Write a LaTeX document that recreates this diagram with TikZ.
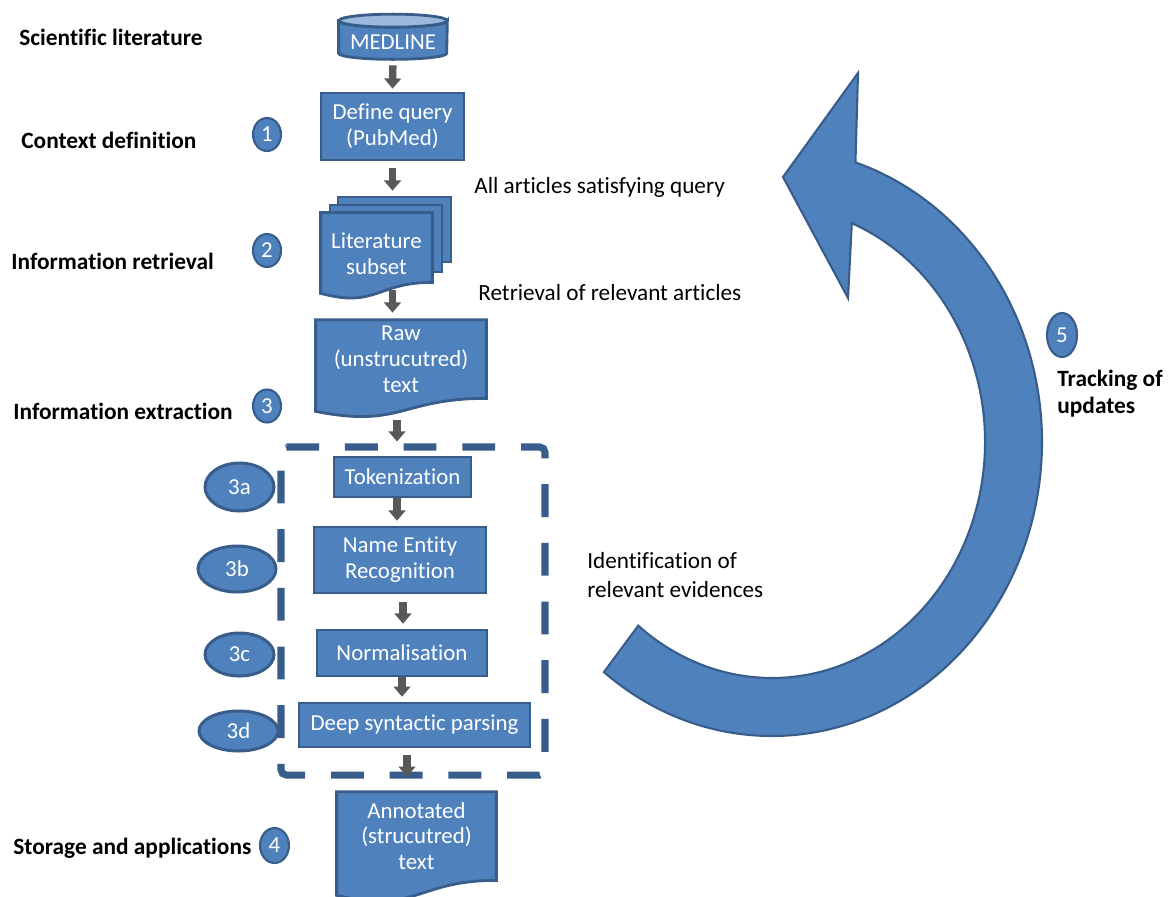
\documentclass[tikz,border=0pt]{standalone}
\usepackage{fontspec}
\setmainfont[Ligatures=NoCommon]{Carlito}
\usepackage{tikz}
\usetikzlibrary{calc}
\usetikzlibrary{arrows.meta}
\usetikzlibrary{positioning}
\usetikzlibrary{backgrounds}
\usetikzlibrary{shapes.geometric}
\definecolor{boxblue}{RGB}{79, 129, 189}
\definecolor{edgeblue}{RGB}{56, 93, 138}
\definecolor{lidblue}{RGB}{155, 185, 220}
\definecolor{arrowgrey}{RGB}{89, 89, 89}
\newcommand{\pxu}{0.02cm}
\newcommand{\textsz}{\fontsize{13}{14.7}\selectfont}

\tikzset{
  stepbox/.style={draw=edgeblue, fill=boxblue, line width=1.6pt, text=white, align=center, inner sep=0pt, font=\textsz},
  docbox/.style={text=white, align=center, inner sep=0pt, font=\textsz},
  docsheet/.style={draw=edgeblue, fill=boxblue, line width=1.6pt},
  stepnum/.style={ellipse, draw=edgeblue, fill=boxblue, line width=1.2pt, text=white, inner sep=0pt, font=\textsz},
  substep/.style={stepnum, line width=1.7pt},
  stagelabel/.style={anchor=west, inner sep=0pt, font=\bfseries\fontsize{13.3}{15}\selectfont},
  note/.style={anchor=west, inner sep=0pt, align=left, font=\fontsize{13.2}{17}\selectfont},
  flow/.style={arrowgrey, line width=4.2pt, -{Triangle[width=9.5pt,length=5.8pt]}},
  ieframe/.style={draw=edgeblue, line width=4pt, dash pattern=on 18.7pt off 14.7pt, rounded corners=3pt},
  bigarrow/.style={draw=edgeblue, fill=boxblue, line width=1.2pt, line join=miter}
}

\begin{document}
\begin{tikzpicture}[x=\pxu, y=-\pxu]
  \useasboundingbox (0,0) rectangle (1168,896);

  % Stage labels
  \node[stagelabel] (lblsci)  at (19,37)  {Scientific literature};
  \node[stagelabel] (lblctx)  at (21,140) {Context definition};
  \node[stagelabel] (lblir)   at (11,261) {Information retrieval};
  \node[stagelabel] (lblie)   at (13,411) {Information extraction};
  \node[stagelabel] (lblstore) at (13,848) {Storage and applications};

  % Step numbers
  \node[stepnum, minimum width=28*\pxu, minimum height=33*\pxu] (s1) at (267,134.5) {1};
  \node[stepnum, minimum width=28*\pxu, minimum height=33*\pxu] (s2) at (267,250.5) {2};
  \node[stepnum, minimum width=28*\pxu, minimum height=33*\pxu] (s3) at (267,406)   {3};
  \node[stepnum, minimum width=29*\pxu, minimum height=35*\pxu] (s4) at (274.5,845.5) {4};
  \node[stepnum, minimum width=30*\pxu, minimum height=44*\pxu] (s5) at (1062,335)   {5};
  \node[substep, minimum width=69*\pxu, minimum height=48*\pxu] (s3a) at (239.5,487)   {3a};
  \node[substep, minimum width=78*\pxu, minimum height=46*\pxu] (s3b) at (237,569)     {3b};
  \node[substep, minimum width=69*\pxu, minimum height=43*\pxu] (s3c) at (239.5,654.5) {3c};
  \node[substep, minimum width=79*\pxu, minimum height=40*\pxu] (s3d) at (238.5,731)   {3d};

  % Pipeline
  \node[docbox, minimum width=108*\pxu, minimum height=32*\pxu] (medline) at (393,37)
       {\raisebox{-0.1cm}[\height][\depth]{MEDLINE}};
  \node[stepbox, minimum width=143*\pxu, minimum height=67*\pxu] (query) at (392.5,126.5) {Define query\\(PubMed)};
  \node[docbox, minimum width=111*\pxu, minimum height=69*\pxu] (litsubset) at (376.5,247.5)
       {\raisebox{-0.12cm}[\height][\depth]{Literature}\\\raisebox{-0.12cm}[\height][\depth]{subset}};
  \node[docbox, minimum width=170*\pxu, minimum height=78*\pxu] (raw) at (401,359) {Raw\\(unstrucutred)\\text};
  \node[stepbox, minimum width=137*\pxu, minimum height=40*\pxu] (tokenization) at (402.5,477) {Tokenization};
  \node[stepbox, minimum width=172*\pxu, minimum height=66*\pxu] (ner) at (400,560) {Name Entity\\Recognition};
  \node[stepbox, minimum width=170*\pxu, minimum height=46*\pxu] (norm) at (402,653) {Normalisation};
  \node[stepbox, minimum width=231*\pxu, minimum height=44*\pxu] (deep) at (414.5,725) {Deep syntactic parsing};
  \node[docbox, minimum width=159*\pxu, minimum height=88*\pxu] (annotated) at (416.5,836) {Annotated\\(strucutred)\\text};

  \begin{scope}[on background layer]
    % MEDLINE drum
    \draw[docsheet] (medline.north west) -- (medline.south west)
        arc[start angle=180, end angle=0, x radius=54, y radius=6] -- (medline.north east)
        arc[start angle=0, end angle=180, x radius=54, y radius=6.5] -- cycle;
    \draw[docsheet, fill=lidblue] (medline.north) ellipse[x radius=54, y radius=6.5];
    % stacked sheets
    \node[docsheet, minimum width=113*\pxu, minimum height=65*\pxu, inner sep=0pt] (sheetc) at (394.5,229.5) {};
    \node[docsheet, minimum width=112*\pxu, minimum height=67*\pxu, inner sep=0pt] (sheetb) at (386,238.5) {};
    % document outlines
    \foreach \d/\lo/\cp in {litsubset/11/26, raw/13/30, annotated/15/34}
      \draw[docsheet] (\d.north west) -- (\d.north east) -- (\d.south east)
        .. controls (\d.south) and ($(\d.south)+(0,\cp)$) .. ($(\d.south west)+(0,\lo)$) -- cycle;
  \end{scope}

  % Extraction frame
  \draw[ieframe] (281,447) -- (545,447) -- (545,775) -- (281,775) -- cycle;

  % Flow arrows
  \coordinate (rawout) at ($(raw.south)+(-4,0)$);
  \coordinate (tokout) at ($(tokenization.south)+(-5.5,0)$);
  \coordinate (nerout) at ($(ner.south)+(3,0)$);
  \coordinate (deepout) at ($(deep.south)+(-7.5,0)$);
  \draw[flow, shorten <=6.8pt, shorten >=1.7pt] (medline.south) -- (query.north);
  \draw[flow, shorten <=4pt, shorten >=2.8pt] (query.south) -- (query.south |- sheetc.north);
  \draw[flow, shorten <=4.5pt, shorten >=4pt] (query.south |- litsubset.south) -- (query.south |- raw.north);
  \draw[flow, shorten <=12.5pt, shorten >=8pt] (rawout) -- (rawout |- tokenization.north);
  \draw[flow, shorten >=2.8pt] (tokout) -- (tokout |- ner.north);
  \draw[flow, shorten <=4.5pt, shorten >=2.8pt] (nerout) -- (nerout |- norm.north);
  \draw[flow, shorten >=2.8pt] (norm.south) -- (norm.south |- deep.north);
  \draw[flow, shorten <=4pt, shorten >=8.5pt] (deepout) -- (deepout |- annotated.north);

  % Notes
  \node[note] (noteall) at (474,187) {All articles satisfying query};
  \node[note] (noteret) at (478,293) {Retrieval of relevant articles};
  \node[note] (noteid)  at (587,575) {Identification of\\relevant evidences};
  \node[note, font=\bfseries\fontsize{13.3}{15.3}\selectfont] (tracking) at (1057,394) {Tracking of\\updates};

  % Update loop
  \coordinate (loopc) at (772,442);
  \draw[bigarrow] ($(loopc)+(128.5:270 and 294)$)
      arc[start angle=128.5, end angle=-72, x radius=270, y radius=294]
      -- (858,73) -- (783,177) -- (848,298)
      -- ($(loopc)+(-68:213 and 236)$)
      arc[start angle=-68, end angle=128.9, x radius=213, y radius=236] -- cycle;
\end{tikzpicture}
\end{document}
